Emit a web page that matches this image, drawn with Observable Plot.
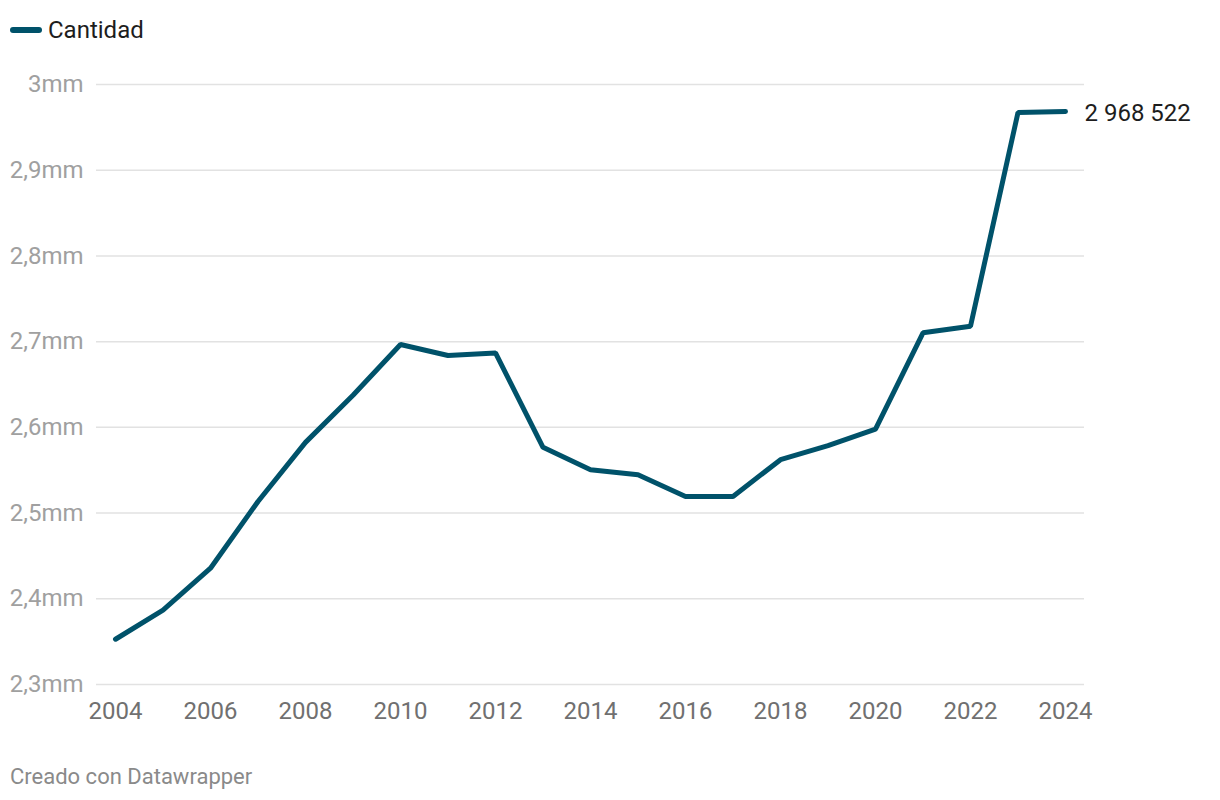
<!DOCTYPE html>
<html>
<head>
<meta charset="utf-8">
<script src="https://cdn.jsdelivr.net/npm/d3@7"></script>
<script src="https://cdn.jsdelivr.net/npm/@observablehq/plot@0.6"></script>
<style>
  html, body { margin: 0; padding: 0; background: #fff; font-family: Roboto, "Noto Sans", sans-serif; }
  #wrap { position: relative; width: 1220px; height: 800px; }
  #legend { position: absolute; left: 10px; top: 14px; height: 32px; display: flex; align-items: center; font-size: 24px; color: #1d1d1d; }
  #legend .sw { width: 32px; height: 6px; border-radius: 3px; background: #00526a; margin-right: 6px; }
  #chart { position: absolute; left: 0; top: 60px; }
  #caption { position: absolute; left: 10px; top: 763px; font-size: 22px; line-height: 28px; color: #8a8a8a; }
</style>
</head>
<body>
<div id="wrap">
  <div id="legend"><div class="sw"></div><span>Cantidad</span></div>
  <div id="chart"></div>
  <div id="caption">Creado con Datawrapper</div>
</div>
<script>
const years = [2004, 2005, 2006, 2007, 2008, 2009, 2010, 2011, 2012, 2013, 2014, 2015, 2016, 2017, 2018, 2019, 2020, 2021, 2022, 2023, 2024];
const cantidad = [2352800, 2386700, 2435700, 2513500, 2582500, 2637500, 2696600, 2683800, 2686800, 2576700, 2550600, 2544700, 2519400, 2519400, 2562300, 2578600, 2598000, 2710300, 2718000, 2967300, 2968522];
const yTicks = [2300000, 2400000, 2500000, 2600000, 2700000, 2800000, 2900000, 3000000];
const xTicks = [2004, 2006, 2008, 2010, 2012, 2014, 2016, 2018, 2020, 2022, 2024];
const seriesName = "Cantidad";

const data = years.map((y, i) => ({ year: y, value: cantidad[i] }));
const last = data[data.length - 1];

const fmtY = d => {
  const m = d / 1e6;
  const s = Math.abs(m - Math.round(m)) < 1e-9 ? String(Math.round(m)) : m.toFixed(1).replace(".", ",");
  return s + "mm";
};
const fmtNum = d => String(d).replace(/\B(?=(\d{3})+(?!\d))/g, " ");

const chart = Plot.plot({
  width: 1220,
  height: 680,
  marginTop: 24,
  marginBottom: 56,
  marginLeft: 96,
  marginRight: 136,
  style: { fontFamily: "Roboto, sans-serif", background: "transparent", overflow: "visible" },
  x: { domain: [2004, 2024], insetLeft: 19, insetRight: 19 },
  y: { domain: [2300000, 3000000] },
  marks: [
    Plot.ruleY(yTicks, { stroke: "#e2e2e2", strokeWidth: 1.5 }),
    Plot.axisY(yTicks, { tickSize: 0, tickPadding: 13, fontSize: 24, fill: "#a0a0a0", tickFormat: fmtY, label: null }),
    Plot.axisX(xTicks, { tickSize: 0, tickPadding: 17, fontSize: 24, fill: "#707070", tickFormat: d => String(d), label: null }),
    Plot.line(data, { x: "year", y: "value", stroke: "#00526a", strokeWidth: 5, strokeLinejoin: "miter", strokeLinecap: "round" }),
    Plot.text([last], { x: "year", y: "value", text: d => fmtNum(d.value), dx: 19, dy: 2, textAnchor: "start", fontSize: 24, fill: "#1d1d1d" })
  ]
});
document.getElementById("chart").appendChild(chart);
</script>
</body>
</html>
